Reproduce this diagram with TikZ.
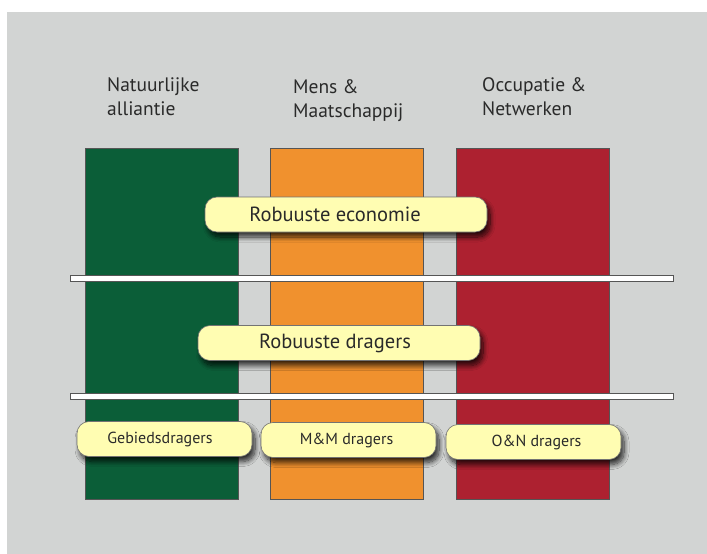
\documentclass[tikz,border=0pt]{standalone}
\usepackage{fontspec}
\setmainfont{PT Sans}
\usetikzlibrary{shadows.blur}
\definecolor{bgrey}{HTML}{D2D4D3}
\definecolor{pillar1}{HTML}{0B5E38}
\definecolor{pillar2}{HTML}{F0912E}
\definecolor{pillar3}{HTML}{AD2130}
\definecolor{pillfill}{HTML}{FFFDB2}
\definecolor{edgegrey}{HTML}{555555}
\definecolor{inkgrey}{HTML}{2A2A2A}
\tikzset{
  pillar/.style={draw=edgegrey, line width=1pt, minimum width=153pt, minimum height=351pt, inner sep=0pt},
  shelf/.style={draw=edgegrey, fill=white, line width=0.9pt},
  pill/.style={draw=black!55, line width=0.6pt, fill=pillfill, rounded corners=12pt,
    text=inkgrey, inner sep=0pt,
    blur shadow={shadow xshift=3pt, shadow yshift=-5pt, shadow blur steps=10, shadow blur radius=5pt, shadow opacity=80}},
  bigpill/.style={pill, minimum width=282pt, minimum height=35pt, font=\fontsize{20.5}{22}\selectfont},
  smallpill/.style={pill, minimum width=175pt, minimum height=35pt, font=\fontsize{16}{18}\selectfont},
  heading/.style={anchor=base west, align=left, text=inkgrey, inner sep=0pt,
    font=\fontsize{19.5}{24}\selectfont}
}
\begin{document}
\begin{tikzpicture}[x=1pt, y=-1pt]
  \useasboundingbox (0,0) rectangle (707,554);
  \fill[white] (0,0) rectangle (707,554);
  \fill[bgrey] (7,12) rectangle (707,554);

  % column headings (anchored on the baseline of the second line)
  \node[heading] (h1) at (107,115) {Natuurlijke\\alliantie};
  \node[heading] (h2) at (293,117) {Mens \&\\Maatschappij};
  \node[heading] (h3) at (482,115) {Occupatie \&\\Netwerken};

  % the three pillars
  \node[pillar, fill=pillar1] (p1) at (161.5,323.5) {};
  \node[pillar, fill=pillar2] (p2) at (347,323.5) {};
  \node[pillar, fill=pillar3] (p3) at (532.5,323.5) {};

  % horizontal shelves
  \draw[shelf] (70,275) rectangle (673,281);
  \draw[shelf] (70,393) rectangle (673,399);

  % labels (a kern nudges the text off centre where needed)
  \node[bigpill] (econ) at (346,214.5) {Robuuste economie\kern22pt};
  \node[bigpill] (drag) at (339,343) {Robuuste dragers\kern8pt};
  \node[smallpill] (gd) at (164.5,439) {Gebiedsdragers\kern9pt};
  \node[smallpill] (mm) at (348.5,440) {M\&M dragers\kern4pt};
  \node[smallpill] (on) at (533.5,442) {\kern6pt O\&N dragers};
\end{tikzpicture}
\end{document}
